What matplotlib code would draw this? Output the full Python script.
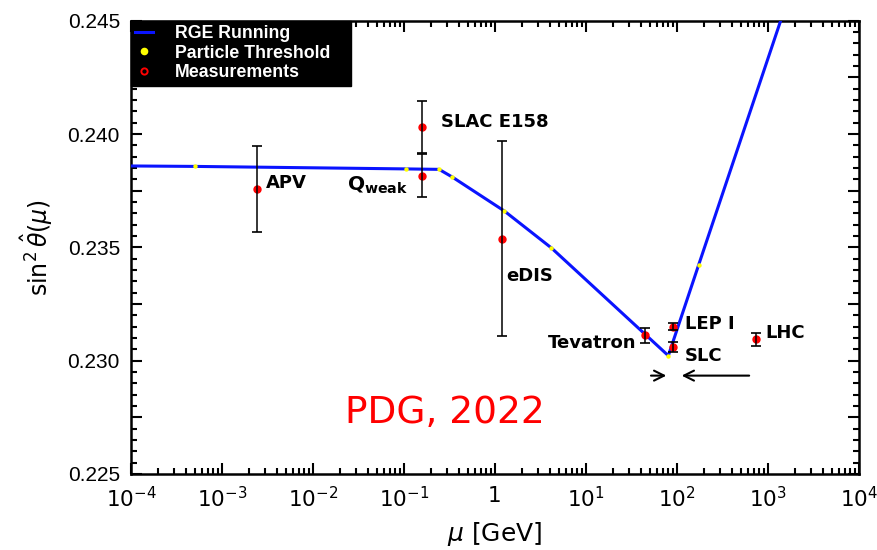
import math
import matplotlib
matplotlib.use("Agg")
import matplotlib.pyplot as plt
from matplotlib.ticker import LogLocator, MultipleLocator, NullFormatter, FuncFormatter
from matplotlib.lines import Line2D

# RGE running curve nodes (mu in GeV, sin^2 theta)
rge_mu = [1e-4, 5.11e-4, 0.1057, 0.243, 0.34, 1.27, 4.18, 80.4, 173.0, 1380.0]
rge_s2 = [0.23859, 0.23857, 0.23846, 0.23844, 0.23810, 0.23660, 0.23497, 0.23022, 0.23422, 0.24500]

# Particle thresholds
thr_mu = [5.11e-4, 0.1057, 0.243, 0.34, 1.27, 4.18, 80.4, 173.0]
thr_s2 = [0.23857, 0.23846, 0.23844, 0.23810, 0.23660, 0.23497, 0.23022, 0.23422]

# Measurements
meas_names = ["APV", "Qweak", "SLAC E158", "eDIS", "Tevatron", "LEP I", "SLC", "LHC"]
meas_mu = [0.00243, 0.1595, 0.1595, 1.2, 44.0, 90.8, 90.8, 745.0]
meas_s2 = [0.23758, 0.23815, 0.24030, 0.23537, 0.23113, 0.23150, 0.23062, 0.23094]
meas_err = [0.00190, 0.00095, 0.00115, 0.00430, 0.00033, 0.00016, 0.00022, 0.00030]

plt.rcParams['font.family'] = ['DejaVu Sans']
plt.rcParams['mathtext.fontset'] = 'dejavusans'

fig = plt.figure(figsize=(8.77, 5.5), dpi=100)
ax = fig.add_axes([0.1494, 0.1382, 0.8300, 0.8242])

ax.plot(rge_mu, rge_s2, color='#0a14ff', lw=2.2, zorder=3, solid_capstyle='butt')
ax.plot(thr_mu, thr_s2, 'o', color='#ffff00', ms=3.2, mec='none', zorder=4)

ax.plot(meas_mu, meas_s2, 'o', color='red', ms=5, mec='red', zorder=5)
ax.errorbar(meas_mu, meas_s2, yerr=meas_err, fmt='none', ecolor='black',
            elinewidth=1.1, capsize=3.4, capthick=1.2, zorder=6)

ax.set_xscale('log')
ax.set_xlim(1e-4, 1e4)
ax.set_ylim(0.225, 0.245)

ax.xaxis.set_major_locator(LogLocator(base=10, numticks=20))
ax.xaxis.set_minor_locator(LogLocator(base=10, subs=range(2, 10), numticks=100))
ax.xaxis.set_minor_formatter(NullFormatter())

def xfmt(v, pos):
    e = int(round(math.log10(v)))
    if e == 0:
        return '1'
    return r'$10^{%d}$' % e
ax.xaxis.set_major_formatter(FuncFormatter(xfmt))

ax.yaxis.set_major_locator(MultipleLocator(0.0025))
ax.yaxis.set_minor_locator(MultipleLocator(0.0005))

def yfmt(v, pos):
    k = round(v / 0.0025)
    if k % 2 == 0:
        return '%.3f' % v
    return ''
ax.yaxis.set_major_formatter(FuncFormatter(yfmt))

ax.tick_params(which='both', direction='in', top=True, right=True, width=1.5)
ax.tick_params(which='major', length=8)
ax.tick_params(which='minor', length=4)
ax.tick_params(axis='x', which='major', labelsize=15.5, pad=9)
ax.tick_params(axis='y', which='major', labelsize=15, pad=8)
for lab in ax.get_yticklabels():
    lab.set_family(['Liberation Sans', 'DejaVu Sans'])
for s in ax.spines.values():
    s.set_linewidth(1.8)

ax.set_xlabel(r'$\mu$ [GeV]', fontsize=18, labelpad=6)
ax.set_ylabel(r'$\sin^2\hat{\theta}(\mu)$', fontsize=17, labelpad=9)

bold = dict(fontsize=13, fontweight='bold', va='center')
ax.text(0.00305, 0.23785, 'APV', ha='left', **bold)
ax.text(0.112, 0.23772, r'$\mathbf{Q_{weak}}$', ha='right', fontsize=14.5, va='center')
ax.text(0.258, 0.24055, 'SLAC E158', ha='left', **bold)
ax.text(1.33, 0.23375, 'eDIS', ha='left', **bold)
ax.text(36.0, 0.23077, 'Tevatron', ha='right', **bold)
ax.text(122.0, 0.23161, 'LEP I', ha='left', **bold)
ax.text(122.0, 0.23022, 'SLC', ha='left', **bold)
ax.text(927.0, 0.23121, 'LHC', ha='left', **bold)

ax.text(0.282, 0.22768, 'PDG, 2022', color='red', fontsize=27, ha='center', va='center')

arr = dict(arrowstyle='->', color='black', lw=1.5, mutation_scale=18)
ax.annotate('', xy=(82.0, 0.22934), xytext=(48.3, 0.22934), arrowprops=arr)
ax.annotate('', xy=(105.0, 0.22934), xytext=(667.0, 0.22934), arrowprops=arr)

handles = [
    Line2D([], [], color='#0a14ff', lw=2.2),
    Line2D([], [], marker='o', color='#ffff00', ls='none', ms=5.5, mec='none'),
    Line2D([], [], marker='o', mfc='none', mec='red', ls='none', ms=4.5, mew=1.4),
]
leg = ax.legend(handles, ['RGE Running', 'Particle Threshold', 'Measurements'],
                loc='upper left', bbox_to_anchor=(0, 1, 0.3025, 0), mode='expand',
                borderaxespad=0, fancybox=False, framealpha=1,
                facecolor='black', edgecolor='black',
                prop=dict(family=['Liberation Sans', 'DejaVu Sans'], weight='bold', size=12.8),
                labelspacing=0.14, handlelength=1.0, handletextpad=1.2, borderpad=0.25)
for t in leg.get_texts():
    t.set_color('white')
leg.set_zorder(10)

fig.savefig('out.png', dpi=100)
